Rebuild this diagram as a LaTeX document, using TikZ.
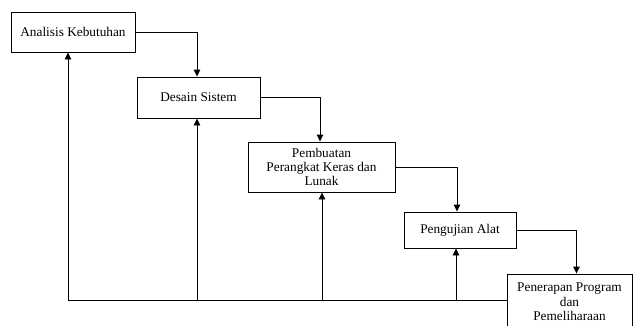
\documentclass[tikz,border=0pt]{standalone}
\usepackage{fontspec}
\setmainfont{Liberation Serif}
\usetikzlibrary{arrows.meta}
\begin{document}
\begin{tikzpicture}[x=1pt,y=-1pt,
  stage/.style={draw=black,line width=0.9pt,fill=white,align=center,inner sep=2pt,
    font=\fontsize{13.3}{13.8}\selectfont},
  flow/.style={line width=0.9pt,-{Triangle[length=7pt,width=6.5pt]}},
  line/.style={line width=0.9pt}]
\useasboundingbox (0,0) rectangle (633,325);
\clip (0,0) rectangle (633,325);
\node[stage,minimum width=124pt,minimum height=40pt] (n1) at (73,32) {Analisis Kebutuhan};
\node[stage,minimum width=123pt,minimum height=41pt] (n2) at (198.5,97.5) {Desain Sistem};
\node[stage,minimum width=147pt,minimum height=50pt] (n3) at (321.5,167) {Pembuatan\\Perangkat Keras dan\\Lunak};
\node[stage,minimum width=112pt,minimum height=36pt] (n4) at (460,230) {Pengujian Alat};
\node[stage,minimum width=125pt,minimum height=56pt,font=\fontsize{13.3}{14.5}\selectfont] (n5) at (569.5,302) {Penerapan Program\\dan\\Pemeliharaan};
% forward flow
\draw[flow] (n1.east) -| ([xshift=-1.5pt]n2.north);
\draw[flow] (n2.east) -| ([xshift=-1.5pt]n3.north);
\draw[flow] (n3.east) -| ([xshift=-3pt]n4.north);
\draw[flow] (n4.east) -| ([xshift=7pt]n5.north);
% feedback
\coordinate (b1) at (68,300);
\coordinate (b2) at (197,300);
\coordinate (b3) at (322,300);
\coordinate (b4) at (456,300);
\draw[line] (b1) -- (b1 -| n5.west);
\draw[flow] (b1) -- (b1 |- n1.south);
\draw[flow] (b2) -- (b2 |- n2.south);
\draw[flow] (b3) -- (b3 |- n3.south);
\draw[flow] (b4) -- (b4 |- n4.south);
\end{tikzpicture}
\end{document}
